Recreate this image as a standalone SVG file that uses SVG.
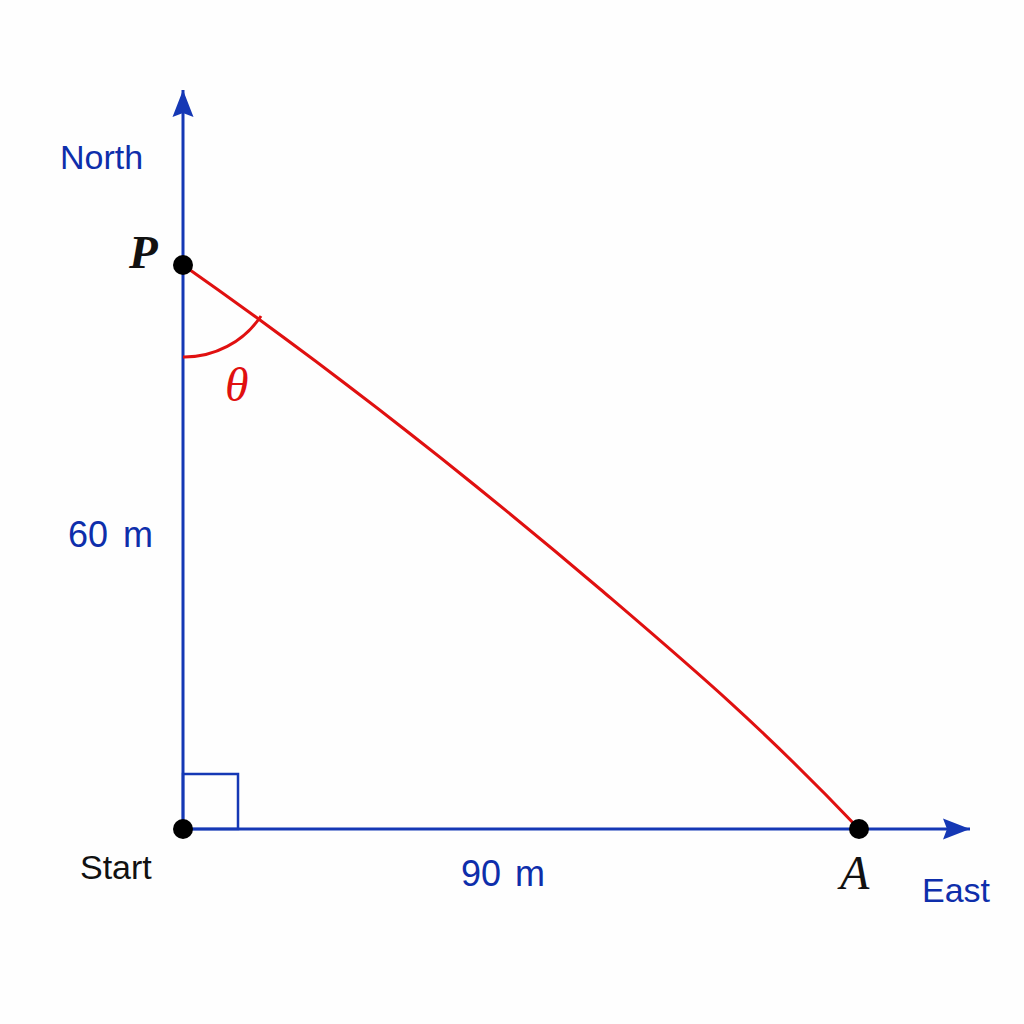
<svg xmlns="http://www.w3.org/2000/svg" width="1024" height="1024" viewBox="0 0 1024 1024">
<defs>
<style>
.axis{stroke:#1538b5;stroke-width:3;fill:none}
.lbl{font-family:"Liberation Sans",Arial,sans-serif;font-size:34px;fill:#0e2eab}
.num{font-size:36px}
.var{font-family:"Liberation Serif","Times New Roman",serif;font-style:italic;fill:#111}
.dot{fill:#000}
</style>
<marker id="ah" markerWidth="30" markerHeight="24" refX="27" refY="12" orient="auto" markerUnits="userSpaceOnUse">
<path d="M0,1.5 L27,12 L0,22.5 L4,12 Z" fill="#1538b5"/>
</marker>
</defs>
<rect width="1024" height="1024" fill="#fefefe"/>
<g id="connectors">
<line class="axis" x1="183" y1="829" x2="183" y2="90" marker-end="url(#ah)"/>
<line class="axis" x1="183" y1="829" x2="970" y2="829" marker-end="url(#ah)"/>
<path d="M183,265 C330,368 460,470 600,589 C690,666 760,725 859,829" fill="none" stroke="#e01010" stroke-width="3"/>
<path d="M183,357 A92,92 0 0 0 261,316" fill="none" stroke="#e01010" stroke-width="3"/>
<rect x="183" y="774" width="55" height="55" fill="none" stroke="#1538b5" stroke-width="2.5"/>
</g>
<g id="node-P"><circle class="dot" cx="183" cy="265" r="10"/><text class="var" x="129" y="268" font-size="47" font-weight="bold">P</text></g>
<g id="node-Start"><circle class="dot" cx="183" cy="829" r="10"/><text x="80" y="879" font-family="Liberation Sans,Arial,sans-serif" font-size="34" fill="#111">Start</text></g>
<g id="node-A"><circle class="dot" cx="859" cy="829" r="10"/><text class="var" x="840" y="889" font-size="48">A</text></g>
<text x="225" y="401" font-family="Liberation Serif,serif" font-style="italic" font-size="48" fill="#e01010">θ</text>
<text class="lbl" x="60" y="169">North</text>
<text class="lbl num" x="68" y="547" word-spacing="5">60 m</text>
<text class="lbl num" x="461" y="886" word-spacing="4">90 m</text>
<text class="lbl" x="922" y="902">East</text>
</svg>
